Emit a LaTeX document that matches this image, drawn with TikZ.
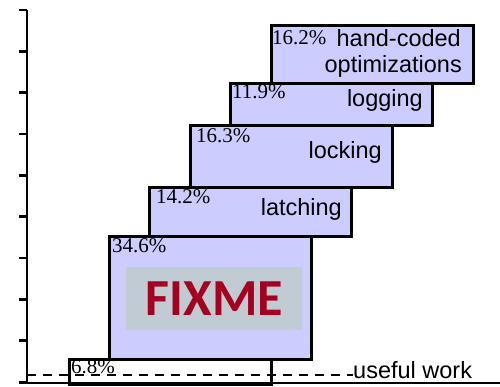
\documentclass[tikz,border=0pt]{standalone}
\usepackage{fontspec}
\setmainfont{Liberation Serif}
\setsansfont{Liberation Sans}
\newfontfamily\fixfont{Carlito}
\definecolor{barfill}{HTML}{CCCCFF}
\definecolor{fixgrey}{HTML}{C0CCD1}
\definecolor{fixred}{HTML}{A50021}
\begin{document}
\begin{tikzpicture}[x=1pt,y={(0pt,-1pt)},
  bar/.style={draw=black,line width=2.6pt,fill=barfill,inner sep=0pt,
    minimum width=202pt,anchor=north west},
  pct/.style={inner sep=0pt,anchor=base west,font=\fontsize{21}{21}\selectfont},
  lbl/.style={inner sep=0pt,anchor=base east,font=\sffamily\fontsize{23.5}{23.5}\selectfont},
  axisline/.style={line width=2.6pt},
  dashline/.style={line width=2pt,dash pattern=on 9pt off 7pt}]
\useasboundingbox (0,0) rectangle (500,387);
% axis
\draw[axisline] (27,10) -- (27,384);
\foreach \t in {0,...,9} \draw[axisline] (19,10+\t*41.33) -- (27,10+\t*41.33);
% boxes
\node[bar,fill=white,minimum height=25pt] (w) at (68,358) {};
\node[bar,minimum height=123pt] (fx) at (108,235) {};
\node[bar,minimum height=49pt] (la) at (148,186) {};
\node[bar,minimum height=62pt] (lo) at (189,124) {};
\node[bar,minimum height=42pt] (lg) at (229,82) {};
\node[bar,minimum height=58pt] (hc) at (270,24) {};
\draw[axisline] (19,383) -- (500,383);
% FIXME block
\node[fill=fixgrey,minimum width=176pt,minimum height=63pt,inner sep=0pt,anchor=north west,
  text=fixred,font=\fixfont\bfseries\fontsize{52}{52}\selectfont] (fixme) at (126,267) {FIXME};
% percentages
\node[pct] (p162) at (272,45) {16.2\%};
\node[pct] (p119) at (232,99) {11.9\%};
\node[pct] (p163) at (196,143) {16.3\%};
\node[pct] (p142) at (156,204) {14.2\%};
\node[pct] (p346) at (112,252) {34.6\%};
\node[pct] (p68) at (71,373) {6.8\%};
% labels
\node[lbl] (l1a) at (461,47) {hand-coded};
\node[lbl] (l1b) at (462,73) {optimizations};
\node[lbl] (l2) at (423,107) {logging};
\node[lbl] (l3) at (382,159) {locking};
\node[lbl] (l4) at (342,216) {latching};
\node[lbl,anchor=base west] (uw) at (353,378) {useful work};
% dashed useful-work line
\coordinate (ds) at (27,375);
\draw[dashline] (ds) -- (uw.west |- ds);
\end{tikzpicture}
\end{document}
